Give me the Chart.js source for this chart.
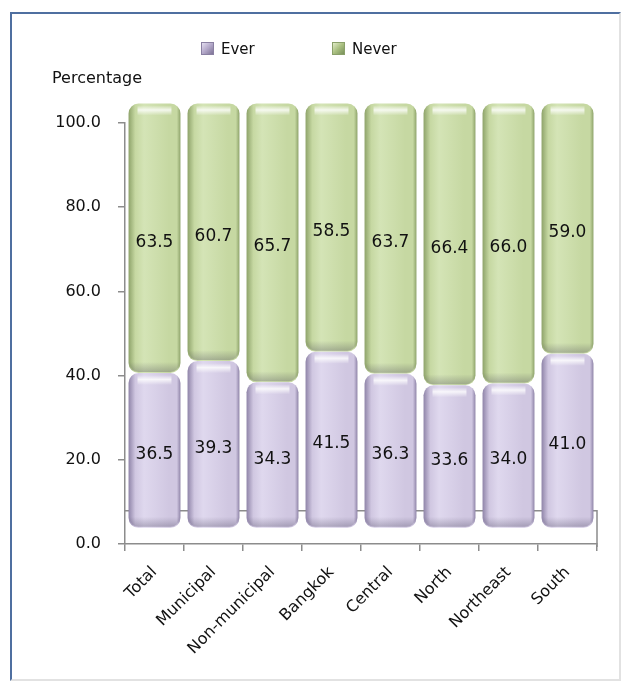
<!DOCTYPE html>
<html>
<head>
<meta charset="utf-8">
<script src="https://cdn.jsdelivr.net/npm/chart.js@4"></script>
<style>
  html, body { margin: 0; padding: 0; background: #fff; }
  body { width: 632px; height: 684px; position: relative; overflow: hidden; font-family: "DejaVu Sans", sans-serif; }
  #frame {
    position: absolute; left: 10px; top: 12px; width: 611px; height: 669px;
    box-sizing: border-box;
    border-left: 2px solid #4f6fa0; border-top: 2px solid #4f6fa0;
    border-right: 2px solid #e2e2e2; border-bottom: 2px solid #e2e2e2;
  }
  #wrap { position: absolute; left: 0; top: 0; width: 607px; height: 665px; }
  .legend { position: absolute; top: 40px; font-size: 15px; color: #111; line-height: 18px; }
  .legend span.box { display: inline-block; width: 11px; height: 11px; vertical-align: -1px; margin-right: 7px; }
  #ytitle { position: absolute; left: 52px; top: 68px; font-size: 16px; color: #111; }
</style>
</head>
<body>
<div id="frame"><div id="wrap"><canvas id="barGraph"></canvas></div></div>
<div class="legend" style="left:201px"><span class="box" style="background:linear-gradient(135deg,#e4def0 0%,#b3a8c9 50%,#7e7396 100%);border:1px solid #8a80a2"></span>Ever</div>
<div class="legend" style="left:332px"><span class="box" style="background:linear-gradient(135deg,#e2ecc9 0%,#a9bf80 50%,#78905a 100%);border:1px solid #8aa06a"></span>Never</div>
<div id="ytitle">Percentage</div>
<script>
// Chart data
var categories = ['Total', 'Municipal', 'Non-municipal', 'Bangkok', 'Central', 'North', 'Northeast', 'South'];
var everValues = [36.5, 39.3, 34.3, 41.5, 36.3, 33.6, 34.0, 41.0];
var neverValues = [63.5, 60.7, 65.7, 58.5, 63.7, 66.4, 66.0, 59.0];
var yTicks = [0, 20, 40, 60, 80, 100];

var axisColor = '#8c8c8c';
var floorDepth = 17;
var barPct = 0.88;

// Horizontal "cylinder" gradient for each bar, placed from the x scale
function barFill(base, light, edge) {
    return function (context) {
        var chart = context.chart;
        var xs = chart.scales.x;
        if (!xs || !xs.width || context.dataIndex === undefined) return base;
        var cx = xs.getPixelForValue(context.dataIndex);
        var w = xs.width / categories.length * barPct;
        var g = chart.ctx.createLinearGradient(cx - w / 2, 0, cx + w / 2, 0);
        g.addColorStop(0, edge);
        g.addColorStop(0.13, base);
        g.addColorStop(0.3, light);
        g.addColorStop(0.78, base);
        g.addColorStop(0.93, base);
        g.addColorStop(1, edge);
        return g;
    };
}

// Draws the 3D floor, bar highlights and value labels
var barStyle = {
    id: 'barStyle',
    beforeDatasetsDraw: function (chart) {
        var ctx = chart.ctx;
        var area = chart.chartArea;
        var yb = chart.scales.yBar.getPixelForValue(0) - floorDepth;
        ctx.save();
        ctx.strokeStyle = axisColor;
        ctx.lineWidth = 1.5;
        ctx.beginPath();
        ctx.moveTo(area.left, yb);
        ctx.lineTo(area.right, yb);
        ctx.lineTo(area.right, area.bottom + 3);
        ctx.stroke();
        ctx.restore();
    },
    afterDatasetsDraw: function (chart) {
        var ctx = chart.ctx;
        chart.data.datasets.forEach(function (ds, di) {
            var meta = chart.getDatasetMeta(di);
            meta.data.forEach(function (bar, i) {
                var p = bar.getProps(['x', 'y', 'base', 'width'], true);
                var left = p.x - p.width / 2;
                var top = Math.min(p.y, p.base);
                var h = Math.abs(p.base - p.y);
                ctx.save();
                ctx.beginPath();
                ctx.roundRect(left + 1, top + 1, p.width - 2, h - 2, 9);
                ctx.clip();
                // bottom shading
                var gb = ctx.createLinearGradient(0, top + h - 11, 0, top + h);
                gb.addColorStop(0, 'rgba(50,45,70,0)');
                gb.addColorStop(1, 'rgba(50,45,70,0.3)');
                ctx.fillStyle = gb;
                ctx.fillRect(left, top + h - 11, p.width, 11);
                // top highlight
                var gt = ctx.createLinearGradient(0, top + 2, 0, top + 12);
                gt.addColorStop(0, 'rgba(255,255,255,0.0)');
                gt.addColorStop(0.45, 'rgba(255,255,255,0.8)');
                gt.addColorStop(1, 'rgba(255,255,255,0.0)');
                ctx.fillStyle = gt;
                ctx.fillRect(left + 9, top + 2, p.width - 18, 10);
                ctx.restore();

                // value label
                ctx.save();
                ctx.fillStyle = '#111';
                ctx.font = '17px "DejaVu Sans"';
                ctx.textAlign = 'center';
                ctx.textBaseline = 'middle';
                ctx.fillText(ds.data[i].toFixed(1), p.x, (p.y + p.base) / 2 + 4);
                ctx.restore();
            });
        });
    }
};

var canvas = document.getElementById('barGraph');

var barGraph = new Chart(canvas, {
    type: 'bar',
    data: {
        labels: categories,
        datasets: [{
            label: 'Ever',
            data: everValues,
            backgroundColor: barFill('#d0c7e1', '#dfd8ee', '#8f84a8'),
            yAxisID: 'yBar'
        }, {
            label: 'Never',
            data: neverValues,
            backgroundColor: barFill('#c6d8a2', '#d4e4b6', '#8ea36a'),
            yAxisID: 'yBar'
        }]
    },
    options: {
        animation: false,
        maintainAspectRatio: false,
        responsive: true,
        layout: {
            padding: { top: 109, left: 0, right: 22, bottom: 0 }
        },
        datasets: {
            bar: {
                barPercentage: barPct,
                categoryPercentage: 1.0,
                borderRadius: { topLeft: 10, topRight: 10, bottomLeft: 10, bottomRight: 10 },
                borderSkipped: false,
                borderWidth: 0,
                clip: false
            }
        },
        scales: {
            x: {
                stacked: true,
                grid: {
                    drawOnChartArea: false,
                    drawTicks: true,
                    tickLength: 7,
                    color: axisColor,
                    lineWidth: 1.5
                },
                border: { color: axisColor, width: 1.5 },
                ticks: {
                    minRotation: 45,
                    maxRotation: 45,
                    padding: 12,
                    color: '#111',
                    font: { family: 'DejaVu Sans', size: 16 }
                },
                afterFit: function (scale) { scale.height = 135; }
            },
            y: {
                min: 0,
                max: 100,
                position: 'left',
                afterBuildTicks: function (scale) {
                    scale.ticks = yTicks.map(function (v) { return { value: v }; });
                },
                grid: {
                    drawOnChartArea: false,
                    drawTicks: true,
                    tickLength: 7,
                    color: axisColor,
                    lineWidth: 1.5
                },
                border: { color: axisColor, width: 1.5 },
                ticks: {
                    padding: 17,
                    color: '#111',
                    font: { family: 'DejaVu Sans', size: 16 },
                    callback: function (v) { return Number(v).toFixed(1); }
                },
                afterFit: function (scale) { scale.width = 113; }
            },
            yBar: {
                display: false,
                stacked: true,
                min: -3.8,
                max: 95.4
            }
        },
        plugins: {
            legend: { display: false },
            tooltip: { enabled: false }
        }
    },
    plugins: [barStyle]
});
</script>
</body>
</html>
